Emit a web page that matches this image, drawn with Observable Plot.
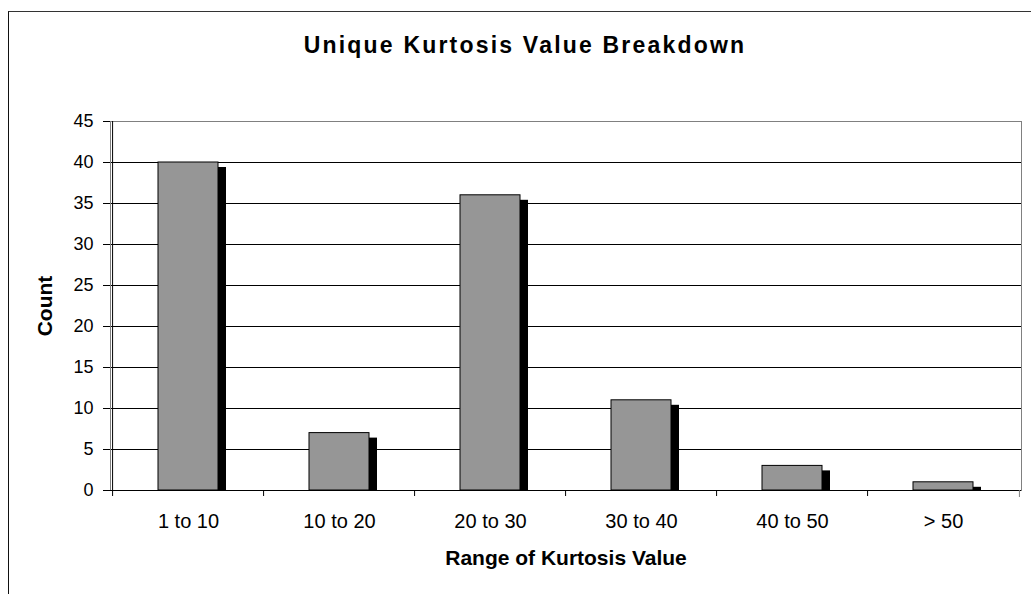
<!DOCTYPE html>
<html>
<head>
<meta charset="utf-8">
<script src="https://cdn.jsdelivr.net/npm/d3@7"></script>
<script src="https://cdn.jsdelivr.net/npm/@observablehq/plot@0.6"></script>
<style>
  html, body { margin: 0; padding: 0; background: #fff; }
  body { width: 1031px; height: 594px; position: relative; overflow: hidden; font-family: "Liberation Sans", Arial, sans-serif; }
  #border { position: absolute; left: 8px; top: 11px; width: 1200px; height: 800px; border-left: 1px solid #111; border-top: 1px solid #333; }
  #title { position: absolute; left: 225px; width: 600px; top: 34px; text-align: center; font-weight: bold; font-size: 23px; line-height: 23px; letter-spacing: 2.2px; color: #000; }
  #chart { position: absolute; left: 0; top: 0; }
</style>
</head>
<body>
<div id="border"></div>
<div id="chart"></div>
<div id="title">Unique Kurtosis Value Breakdown</div>
<script>
const categories = ["1 to 10", "10 to 20", "20 to 30", "30 to 40", "40 to 50", "> 50"];
const counts = [40, 7, 36, 11, 3, 1];
const yTicks = [0, 5, 10, 15, 20, 25, 30, 35, 40, 45];
const xTitle = "Range of Kurtosis Value";
const yTitle = "Count";

const data = categories.map((c, i) => ({category: c, count: counts[i]}));

const W = 1031, H = 594;
const mL = 110, mR = 10, mT = 121, mB = 104;
const step = (W - mL - mR) / categories.length;
const font = '"Liberation Sans", Arial, sans-serif';

const chart = Plot.plot({
  width: W,
  height: H,
  marginLeft: mL,
  marginRight: mR,
  marginTop: mT,
  marginBottom: mB,
  style: {fontFamily: font, background: "transparent", color: "#000", overflow: "visible"},
  x: {type: "band", domain: categories, paddingInner: 0.605, paddingOuter: 0.3025, axis: null},
  y: {domain: [0, 45], axis: null},
  marks: [
    Plot.ruleY(yTicks.filter(v => v > 0 && v < 45), {stroke: "#000", strokeWidth: 1}),
    Plot.frame({stroke: "#808080", strokeWidth: 1}),
    Plot.barY(data, {x: "category", y: "count", fill: "#000", dx: 8, dy: 5, clip: true}),
    Plot.barY(data, {x: "category", y: "count", fill: "#969696", stroke: "#000", strokeWidth: 1}),
    Plot.ruleY([0], {stroke: "#000", strokeWidth: 1}),
    // left axis line and category boundary ticks
    Plot.ruleX([categories[0]], {x: d => d, y1: 45, y2: 0, dx: -step / 2, insetBottom: -6, stroke: "#000"}),
    Plot.ruleX(categories.slice(1), {x: d => d, y1: 0, y2: 0, dx: -step / 2, insetBottom: -6, stroke: "#000"}),
    Plot.ruleX([categories[categories.length - 1]], {x: d => d, y1: 0, y2: 0, dx: step / 2, insetBottom: -7, stroke: "#808080"}),
    Plot.axisY({ticks: yTicks, tickSize: 7, tickPadding: 10, fontSize: 18, label: null, tickFormat: d => String(d)}),
    Plot.axisX({tickSize: 0, tickPadding: 23, fontSize: 20, label: null}),
    Plot.text([yTitle], {frameAnchor: "left", dx: -65, rotate: -90, fontSize: 21, fontWeight: "bold", lineAnchor: "middle", textAnchor: "middle"}),
    Plot.text([xTitle], {frameAnchor: "bottom", dy: 68, fontSize: 21, fontWeight: "bold", lineAnchor: "middle", textAnchor: "middle"})
  ]
});
document.getElementById("chart").appendChild(chart);
</script>
</body>
</html>
